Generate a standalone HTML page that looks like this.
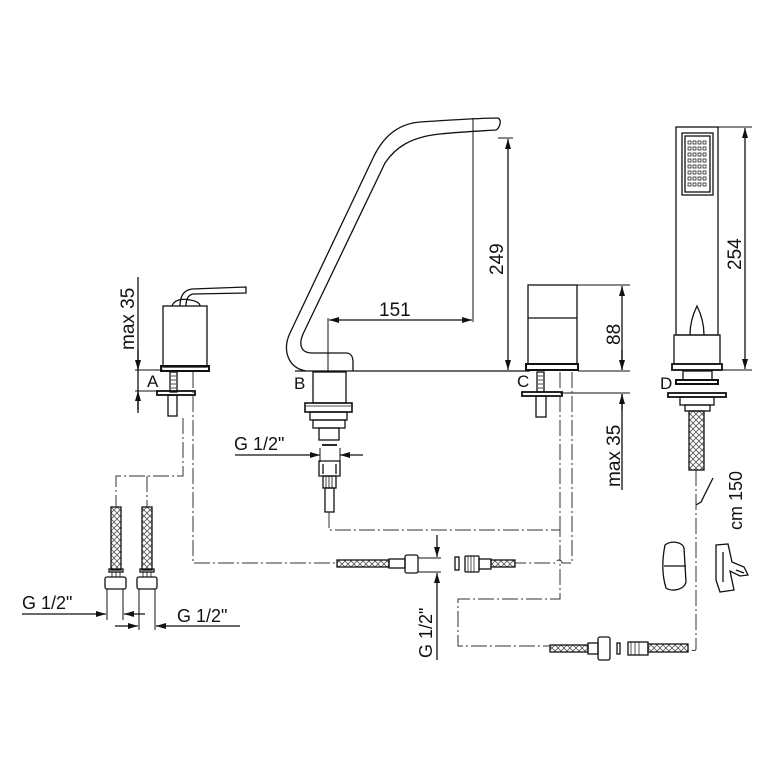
<!DOCTYPE html>
<html><head><meta charset="utf-8"><style>
html,body{margin:0;padding:0;background:#fff}
svg{display:block}
text{font-family:"Liberation Sans",sans-serif;fill:#111}
</style></head><body>
<svg width="772" height="772" viewBox="0 0 772 772" xmlns="http://www.w3.org/2000/svg">
<defs>
<marker id="ar" markerWidth="10" markerHeight="6" refX="10" refY="3" orient="auto-start-reverse" markerUnits="userSpaceOnUse"><path d="M0,0 L10,3 L0,6 z" fill="#111"/></marker>
<pattern id="br" width="6" height="6" patternUnits="userSpaceOnUse"><path d="M0,0 L6,6 M6,0 L0,6" stroke="#555" stroke-width="0.8"/></pattern>
</defs>
<g fill="none" stroke="#111" stroke-width="1.3">
<!-- Valve A -->
<path d="M180,306 C180,296 184,290 192,289 L246,287 L246,293 L193,294 C188,295 186,300 186,306"/>
<path d="M172,306 C174,300 182,298 190,300 C196,301 200,303 200,306"/>
<rect x="163" y="306" width="44" height="61"/>
<rect x="161" y="366" width="48" height="5" stroke-width="2"/>
<rect x="170" y="372" width="7" height="20"/>
<path d="M171,376 h5 M171,380 h5 M171,384 h5 M171,388 h5" stroke-width="0.8"/>
<rect x="157" y="391" width="38" height="4" stroke-width="1.8"/>
<rect x="168" y="395" width="9" height="21"/>
<line x1="138" y1="277" x2="138" y2="413"/>
<line x1="138" y1="350" x2="138" y2="370" marker-end="url(#ar)"/>
<line x1="138" y1="410" x2="138" y2="391" marker-end="url(#ar)"/>
<line x1="135" y1="370" x2="163" y2="370" stroke-width="1"/>
<line x1="135" y1="391" x2="160" y2="391" stroke-width="1"/>
<!-- Spout B -->
<path d="M498,118 C480,118 450,120 420,122 C395,124 382,140 374,156 L290,333 C282,350 288,368 306,371"/>
<path d="M498,118 C502,120 500,128 496,130 C480,131 460,132 440,134 C410,137 395,148 385,163 L303,334 C298,346 302,353 312,353 L346,353 C351,353 353,357 353,362 L353,371"/>
<line x1="295" y1="371" x2="530" y2="371"/>
<rect x="313" y="372" width="33" height="31"/>
<rect x="305" y="403" width="47" height="9" stroke-width="1.6"/>
<path d="M306,406 h45" stroke-width="0.8"/>
<rect x="310" y="412" width="37" height="8"/>
<rect x="313" y="420" width="32" height="8"/>
<rect x="319" y="428" width="20" height="12"/>
<line x1="322" y1="445" x2="337" y2="445" stroke-width="1.8"/>
<line x1="235" y1="455" x2="320" y2="455" marker-end="url(#ar)"/>
<line x1="363" y1="455" x2="340" y2="455" marker-end="url(#ar)"/>
<line x1="320" y1="448" x2="320" y2="462" stroke-width="1"/>
<line x1="340" y1="448" x2="340" y2="462" stroke-width="1"/>
<path d="M319,461 h21 v15 h-21 z M323,464 v10 M336,464 v10"/>
<rect x="323" y="476" width="13" height="12"/>
<path d="M326,476 v12 M329,476 v12 M332,476 v12" stroke-width="0.8"/>
<rect x="325" y="488" width="9" height="24"/>
<!-- dim 151 -->
<line x1="328" y1="318" x2="328" y2="371" stroke-width="1"/>
<line x1="329" y1="320" x2="472" y2="320" marker-start="url(#ar)" marker-end="url(#ar)"/>
<line x1="473" y1="118" x2="473" y2="322" stroke-width="1"/>
<!-- dim 249 -->
<line x1="498" y1="138" x2="513" y2="138" stroke-width="1"/>
<line x1="508" y1="139" x2="508" y2="370" marker-start="url(#ar)" marker-end="url(#ar)"/>
<!-- Valve C -->
<rect x="528" y="285" width="49" height="79"/>
<line x1="528" y1="318" x2="577" y2="318"/>
<rect x="526" y="364" width="52" height="6" stroke-width="2"/>
<rect x="537" y="372" width="7" height="20"/>
<path d="M538,376 h5 M538,380 h5 M538,384 h5 M538,388 h5" stroke-width="0.8"/>
<rect x="522" y="392" width="40" height="4" stroke-width="1.8"/>
<rect x="536" y="396" width="10" height="21"/>
<line x1="577" y1="285" x2="630" y2="285" stroke-width="1"/>
<line x1="578" y1="371" x2="630" y2="371" stroke-width="1"/>
<line x1="560" y1="393" x2="630" y2="393" stroke-width="1"/>
<line x1="622" y1="286" x2="622" y2="370" marker-start="url(#ar)" marker-end="url(#ar)"/>
<line x1="622" y1="410" x2="622" y2="394" marker-end="url(#ar)"/>
<line x1="622" y1="394" x2="622" y2="490"/>
<line x1="622" y1="350" x2="622" y2="370"/>
<!-- Hand shower D -->
<rect x="676" y="127" width="42" height="208"/>
<rect x="682" y="133" width="31" height="62"/>
<rect x="685" y="136" width="25" height="56"/>
<g stroke-width="0.7">
<path d="M688,141 h3 v3 h-3z M693,141 h3 v3 h-3z M698,141 h3 v3 h-3z M703,141 h3 v3 h-3z
M688,147 h3 v3 h-3z M693,147 h3 v3 h-3z M698,147 h3 v3 h-3z M703,147 h3 v3 h-3z
M688,153 h3 v3 h-3z M693,153 h3 v3 h-3z M698,153 h3 v3 h-3z M703,153 h3 v3 h-3z
M688,159 h3 v3 h-3z M693,159 h3 v3 h-3z M698,159 h3 v3 h-3z M703,159 h3 v3 h-3z
M688,165 h3 v3 h-3z M693,165 h3 v3 h-3z M698,165 h3 v3 h-3z M703,165 h3 v3 h-3z
M688,171 h3 v3 h-3z M693,171 h3 v3 h-3z M698,171 h3 v3 h-3z M703,171 h3 v3 h-3z
M688,177 h3 v3 h-3z M693,177 h3 v3 h-3z M698,177 h3 v3 h-3z M703,177 h3 v3 h-3z
M688,183 h3 v3 h-3z M693,183 h3 v3 h-3z M698,183 h3 v3 h-3z M703,183 h3 v3 h-3z"/>
</g>
<path d="M690,335 C690,322 694,312 697,306 C700,312 704,322 704,335"/>
<rect x="674" y="335" width="46" height="29"/>
<rect x="672" y="364" width="50" height="6" stroke-width="1.8"/>
<rect x="683" y="371" width="29" height="9"/>
<rect x="676" y="380" width="42" height="4" stroke-width="2"/>
<rect x="668" y="393" width="58" height="4" stroke-width="1.8"/>
<rect x="680" y="397" width="34" height="8"/>
<rect x="685" y="405" width="25" height="6"/>
<rect x="689" y="411" width="15" height="59" fill="url(#br)"/>
<line x1="718" y1="127" x2="752" y2="127" stroke-width="1"/>
<line x1="722" y1="370" x2="752" y2="370" stroke-width="1"/>
<line x1="745" y1="128" x2="745" y2="369" marker-start="url(#ar)" marker-end="url(#ar)"/>
<path d="M713,478 L701,502 L696,505"/>
<!-- holders -->
<path d="M665,545 C672,540 682,542 684,548 L686,582 C684,590 672,592 666,588 C662,575 662,560 665,545 Z M664,566 h22"/>
<path d="M716,545 L728,544 L732,562 L744,567 L748,575 L740,576 L730,571 L734,590 L720,592 L716,580 Z M723,552 v30 M736,570 l8,3"/>
<!-- left supply hoses -->
<rect x="111" y="507" width="10" height="63" fill="url(#br)"/>
<rect x="142" y="507" width="10" height="63" fill="url(#br)"/>
<rect x="109" y="569" width="14" height="3"/>
<rect x="140" y="569" width="14" height="3"/>
<path d="M112,572 v5 M116,572 v5 M120,572 v5 M143,572 v5 M147,572 v5 M151,572 v5" stroke-width="0.8"/>
<rect x="105" y="577" width="21" height="12" rx="2"/>
<rect x="137" y="577" width="20" height="12" rx="2"/>
<line x1="107" y1="589" x2="107" y2="620" stroke-width="1"/>
<line x1="123" y1="589" x2="123" y2="620" stroke-width="1"/>
<line x1="139" y1="589" x2="139" y2="630" stroke-width="1"/>
<line x1="155" y1="589" x2="155" y2="630" stroke-width="1"/>
<line x1="22" y1="614" x2="106" y2="614" marker-end="url(#ar)"/>
<line x1="145" y1="614" x2="124" y2="614" marker-end="url(#ar)"/>
<line x1="115" y1="626" x2="138" y2="626" marker-end="url(#ar)"/>
<line x1="240" y1="626" x2="156" y2="626" marker-end="url(#ar)"/>
<!-- middle hose -->
<rect x="337" y="560" width="52" height="7" fill="url(#br)"/>
<rect x="389" y="559" width="16" height="9"/>
<rect x="405" y="555" width="13" height="18" rx="2"/>
<line x1="418" y1="558" x2="441" y2="558" stroke-width="1"/>
<line x1="418" y1="572" x2="441" y2="572" stroke-width="1"/>
<line x1="437" y1="535" x2="437" y2="557" marker-end="url(#ar)"/>
<line x1="437" y1="600" x2="437" y2="573" marker-end="url(#ar)"/>
<line x1="437" y1="600" x2="437" y2="660"/>
<rect x="455" y="557" width="4" height="13"/>
<rect x="465" y="556" width="14" height="16" rx="1"/>
<path d="M468,556 v16 M471,556 v16 M474,556 v16" stroke-width="0.7"/>
<rect x="479" y="559" width="12" height="10"/>
<rect x="491" y="560" width="24" height="7" fill="url(#br)"/>
<!-- bottom hose -->
<rect x="550" y="645" width="38" height="7" fill="url(#br)"/>
<rect x="588" y="643" width="10" height="11"/>
<rect x="598" y="637" width="12" height="23" rx="2"/>
<rect x="617" y="643" width="3" height="11"/>
<rect x="628" y="642" width="20" height="13"/>
<path d="M631,642 v13 M635,642 v13 M639,642 v13" stroke-width="0.7"/>
<rect x="648" y="644" width="40" height="8" fill="url(#br)"/>
</g>
<!-- dash-dot piping -->
<g fill="none" stroke="#333" stroke-width="1" stroke-dasharray="16 3 2 3">
<path d="M183,418 V476 H116 V507"/>
<line x1="147" y1="476" x2="147" y2="507"/>
<path d="M193,372 V563 H337"/>
<path d="M329,512 V530 H560 V599 H458 V646 H550"/>
<path d="M572,372 V563 H562 A3,3 0 0 0 556,563 H515"/>
<path d="M560,372 V530"/>
<path d="M696,470 V648 C696,652 694,650 688,650"/>
</g>
<!-- text -->
<text x="147" y="387" font-size="17">A</text>
<text x="294" y="389" font-size="17">B</text>
<text x="517" y="387" font-size="17">C</text>
<text x="660" y="389" font-size="17">D</text>
<text x="379" y="316" font-size="19">151</text>
<text x="234" y="450" font-size="18">G 1/2"</text>
<text x="22" y="609" font-size="18">G 1/2"</text>
<text x="177" y="622" font-size="18">G 1/2"</text>
<text font-size="19" transform="translate(134,350) rotate(-90)">max 35</text>
<text font-size="19" transform="translate(503,275) rotate(-90)">249</text>
<text font-size="19" transform="translate(620,345) rotate(-90)">88</text>
<text font-size="19" transform="translate(620,487) rotate(-90)">max 35</text>
<text font-size="19" transform="translate(741,270) rotate(-90)">254</text>
<text font-size="18" transform="translate(742,530) rotate(-90)">cm 150</text>
<text font-size="18" transform="translate(432,658) rotate(-90)">G 1/2"</text>
</svg>
</body></html>
